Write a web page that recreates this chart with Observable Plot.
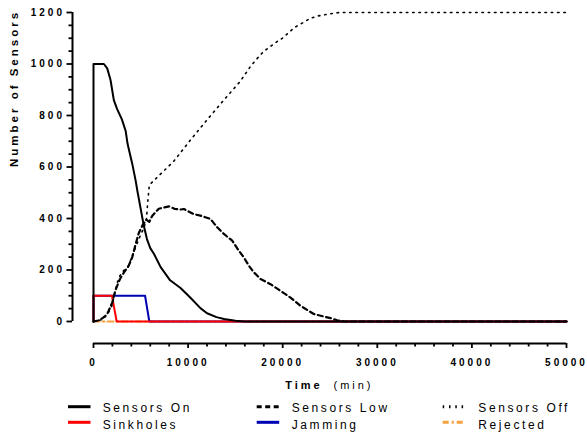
<!DOCTYPE html>
<html>
<head>
<meta charset="utf-8">
<script src="https://cdn.jsdelivr.net/npm/d3@7"></script>
<script src="https://cdn.jsdelivr.net/npm/@observablehq/plot@0.6"></script>
<style>
  body { margin: 0; background: #fff; }
  #chart { width: 587px; height: 434px; font-family: "Liberation Sans", Arial, sans-serif; }
  #chart svg { display: block; }
</style>
</head>
<body>
<div id="chart"></div>
<script>
// Sensor population over time (minutes)
const onTime   = [0, 0, 1100, 1450, 1800, 2150, 2500, 3000, 3400, 3600, 4100, 4450, 4650, 4950, 5300, 5650, 6000, 6400, 7100, 8100, 9200, 10250, 11300, 12000, 13000, 13800, 15000, 16000, 50000];
const onValue  = [0, 1000, 1000, 983, 938, 860, 825, 785, 740, 690, 612, 548, 505, 445, 375, 320, 285, 262, 211, 160, 130, 92, 52, 32, 17, 10, 3, 0, 0];

const lowTime  = [0, 500, 1000, 1450, 2000, 2300, 2800, 3300, 3700, 4100, 4450, 4800, 5200, 5600, 5900, 6200, 6900, 7500, 8000, 8600, 9200, 9550, 10600, 11310, 12370, 13070, 13780, 14660, 15360, 15890, 16420, 16950, 17650, 18710, 19770, 20820, 21880, 23290, 25050, 25760, 26500, 50000];
const lowValue = [0, 4, 14, 29, 75, 120, 165, 195, 215, 250, 300, 345, 375, 395, 387, 410, 438, 443, 447, 437, 435, 437, 417, 411, 398, 366, 340, 314, 275, 249, 217, 191, 165, 145, 119, 93, 61, 29, 13, 5, 0, 0];

const offTime  = [0, 1000, 1600, 1950, 2250, 2500, 2800, 3200, 3600, 4000, 4450, 5000, 5350, 5600, 5750, 5900, 6400, 8500, 10250, 12000, 13800, 15500, 16600, 17500, 18000, 19400, 19800, 21200, 21500, 22900, 23650, 25000, 26000, 50000];
const offValue = [0, 8, 36, 62, 110, 150, 178, 198, 208, 245, 289, 338, 365, 400, 470, 530, 548, 623, 705, 783, 861, 932, 991, 1030, 1049, 1087, 1095, 1140, 1147, 1177, 1186, 1195, 1200, 1200];

const sinkTime  = [0, 0, 1950, 2450, 50000];
const sinkValue = [0, 100, 100, 0, 0];

const jamTime  = [0, 0, 5450, 5900, 50000];
const jamValue = [0, 100, 100, 0, 0];

const rejTime  = [0, 50000];
const rejValue = [0, 0];

const yMajor = [0, 200, 400, 600, 800, 1000, 1200];
const xMajor = [0, 10000, 20000, 30000, 40000, 50000];

const toRows = (ts, vs) => ts.map((t, i) => ({t, v: vs[i]}));
const yMinor = d3.range(0, 1201, 50).filter(d => d % 200 !== 0);
const xMinor = d3.range(0, 50001, 2000).filter(d => d % 10000 !== 0);
const plain = d3.format("d");

const styles = {
  "Sensors On":  {stroke: "#000000", strokeWidth: 2},
  "Sensors Low": {stroke: "#000000", strokeWidth: 2.2, strokeDasharray: "5,3.5"},
  "Sensors Off": {stroke: "#000000", strokeWidth: 1.6, strokeDasharray: "1.5,4.8"},
  "Sinkholes":   {stroke: "#ff0000", strokeWidth: 2},
  "Jamming":     {stroke: "#0000b4", strokeWidth: 2},
  "Rejected":    {stroke: "#f5a142", strokeWidth: 2, strokeDasharray: "6,3,2,3"}
};

const lineMark = (ts, vs, name) => Plot.line(toRows(ts, vs), {x: "t", y: "v", ...styles[name]});

const chart = Plot.plot({
  width: 587,
  height: 395,
  marginTop: 12,
  marginBottom: 74,
  marginLeft: 93,
  marginRight: 21,
  style: {
    fontFamily: "'Liberation Sans', Arial, sans-serif",
    fontSize: "10px",
    fontWeight: "bold",
    letterSpacing: "3px",
    background: "white",
    color: "black",
    overflow: "visible"
  },
  x: {domain: [0, 50000]},
  y: {domain: [0, 1200]},
  marks: [
    // offset y axis
    Plot.ruleX([0], {y1: 0, y2: 1200, dx: -21, strokeWidth: 2}),
    Plot.axisY({ticks: yMinor, tickSize: 3.5, dx: -21, fill: "none", strokeWidth: 1.8}),
    Plot.axisY({ticks: yMajor, tickSize: 5.5, dx: -21, tickPadding: 2, strokeWidth: 1.8, tickFormat: plain, label: null}),
    // offset x axis
    Plot.ruleY([0], {dy: 22, strokeWidth: 2}),
    Plot.axisX({ticks: xMinor, tickSize: 3.5, dy: 22, fill: "none", strokeWidth: 1.8}),
    Plot.axisX({ticks: xMajor, tickSize: 5, dy: 22, tickPadding: 10.5, strokeWidth: 1.8, tickFormat: plain, label: null}),
    // axis titles
    Plot.text(["Number of Sensors"], {frameAnchor: "left", dx: -79, rotate: -90, fontSize: 11.5, lineAnchor: "middle"}),
    Plot.text(["Time"], {frameAnchor: "bottom", dx: -26, dy: 63.5, fontSize: 11, lineAnchor: "middle"}),
    Plot.text(["(min)"], {frameAnchor: "bottom", dx: 23.5, dy: 63.5, fontSize: 11, fontWeight: "normal", lineAnchor: "middle"}),
    // series, drawn back to front
    lineMark(rejTime, rejValue, "Rejected"),
    lineMark(jamTime, jamValue, "Jamming"),
    lineMark(sinkTime, sinkValue, "Sinkholes"),
    lineMark(offTime, offValue, "Sensors Off"),
    lineMark(lowTime, lowValue, "Sensors Low"),
    lineMark(onTime, onValue, "Sensors On")
  ]
});

document.getElementById("chart").append(chart);

// legend below the plot: two rows, three columns
const legendOrder = [
  ["Sensors On", 0, 0], ["Sensors Low", 1, 0], ["Sensors Off", 2, 0],
  ["Sinkholes", 0, 1], ["Jamming", 1, 1], ["Rejected", 2, 1]
];
const swatchX = [68, 256.7, 442.7];
const labelX = [102.7, 291.7, 478.3];
const swatchY = [11.7, 27.3];
const labelY = [17, 34];

const legend = d3.create("svg")
  .attr("width", 587)
  .attr("height", 39)
  .style("display", "block")
  .style("background", "white")
  .style("font-family", "'Liberation Sans', Arial, sans-serif")
  .style("font-size", "12px")
  .style("letter-spacing", "2.6px");

for (const [name, col, row] of legendOrder) {
  const s = styles[name];
  legend.append("line")
    .attr("x1", swatchX[col]).attr("x2", swatchX[col] + 22.5)
    .attr("y1", swatchY[row]).attr("y2", swatchY[row])
    .attr("stroke", s.stroke)
    .attr("stroke-width", 3)
    .attr("stroke-dasharray", s.strokeDasharray || null);
  legend.append("text")
    .attr("x", labelX[col]).attr("y", labelY[row])
    .attr("fill", "black")
    .text(name);
}

document.getElementById("chart").append(legend.node());
</script>
</body>
</html>
